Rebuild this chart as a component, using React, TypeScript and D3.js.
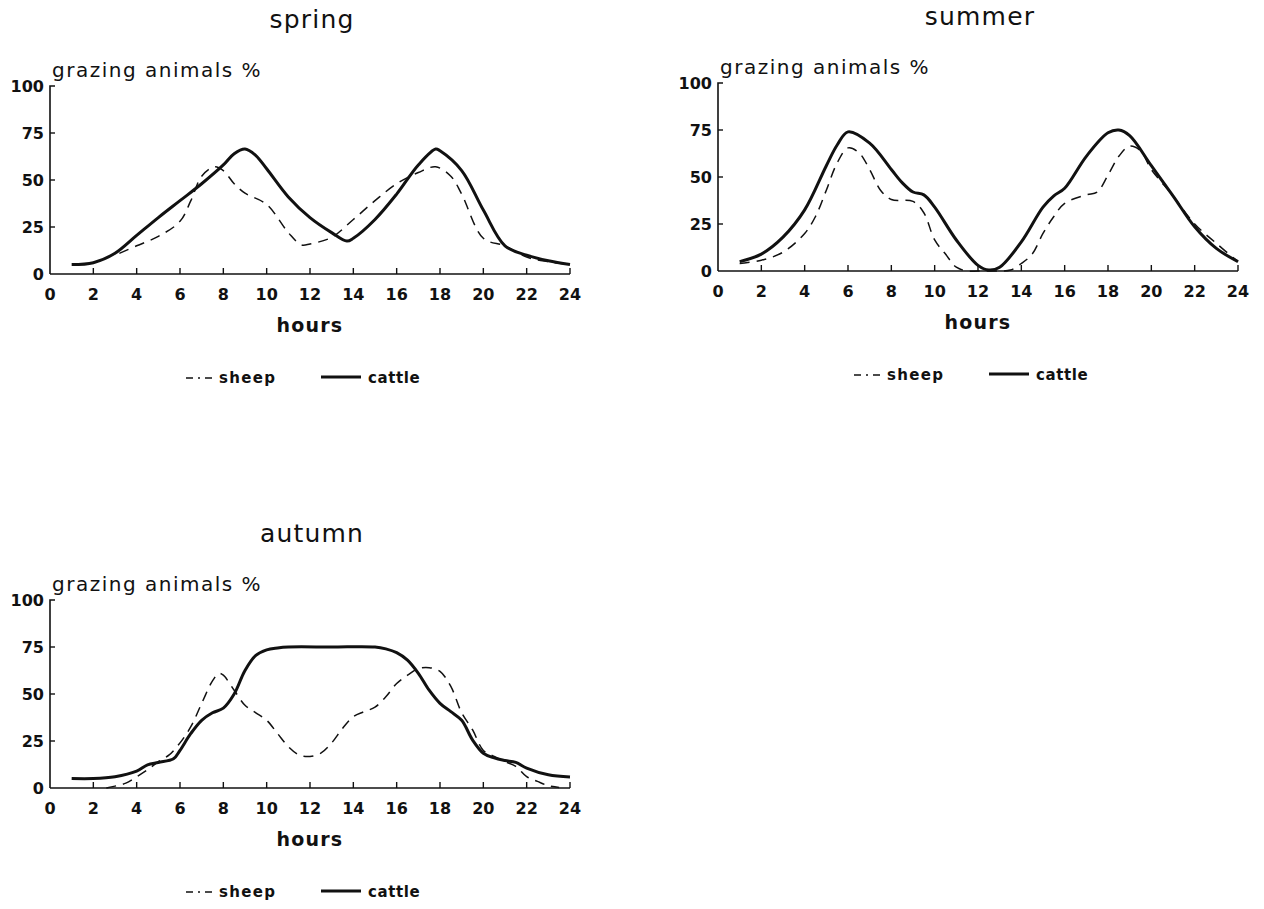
import React from "react";
import * as d3 from "d3";

const hourTicks = [0, 2, 4, 6, 8, 10, 12, 14, 16, 18, 20, 22, 24];
const pctTicks = [0, 25, 50, 75, 100];

const springCattle: [number, number][] = [
  [1, 5], [2, 6], [3, 11], [4, 20.5], [5, 30], [6, 39], [7, 48], [8, 58], [8.5, 64], [9, 66.5],
  [9.5, 63], [10, 56], [11, 41], [12, 30], [13, 22], [13.7, 17.5], [14, 19], [15, 29], [16, 42.5],
  [17, 58], [17.8, 66.5], [18, 65.5], [19, 55], [20, 34], [21, 15], [22, 10], [23, 7], [24, 5],
];
const springSheep: [number, number][] = [
  [3.2, 11], [4, 15], [5, 20], [6, 28], [6.5, 39], [7, 52], [7.6, 57], [8, 55], [8.5, 48], [9, 43],
  [10, 37], [11, 22], [11.6, 15.5], [12, 16], [13, 19.5], [14, 29], [15, 39], [16, 48], [17, 54],
  [17.8, 57], [18.5, 52], [19, 42.5], [20, 19], [21, 15], [22, 9], [23, 6.5], [24, 5],
];
const summerCattle: [number, number][] = [
  [1, 5], [2, 9], [3, 18], [4, 32.5], [5, 56], [5.5, 67], [6, 74], [7, 68], [8, 54], [8.5, 47],
  [9, 42], [9.5, 40.5], [10, 34], [11, 16.5], [12, 3], [12.5, 0.5], [13, 2], [14, 15.5], [15, 34],
  [15.5, 40], [16, 44], [17, 61], [18, 73.5], [18.5, 75], [19, 72], [20, 56], [21, 40], [22, 23.5],
  [23, 12], [24, 5],
];
const summerSheep: [number, number][] = [
  [1, 4], [2, 5.7], [3, 10], [4, 20], [4.5, 29], [5, 43], [5.5, 57.5], [6, 65.5], [6.5, 63], [7, 54],
  [7.5, 43], [8, 38], [9, 37], [9.5, 31], [10, 16.5], [10.5, 9], [11, 2], [11.5, 0], [12, 0], [13, 0],
  [13.5, 0.5], [14, 4], [14.5, 9], [15, 20], [15.5, 29], [16, 36], [17, 40.5], [17.5, 42], [18, 51],
  [18.5, 61], [19, 66.5], [19.5, 64], [20, 54], [21, 40], [22, 25], [23, 14.7], [24, 5],
];
const autumnCattle: [number, number][] = [
  [1, 5], [2, 5], [3, 6], [4, 9], [4.5, 12.3], [5, 13.6], [5.7, 15.5], [6, 20], [6.5, 29], [7, 36],
  [7.5, 40], [8, 42.5], [8.5, 50], [9, 62.5], [9.5, 70.5], [10, 73.5], [10.5, 74.5], [11, 75],
  [13, 75], [15, 75], [15.5, 74], [16, 72], [16.5, 68], [17, 61], [17.5, 52], [18, 45], [18.5, 40.6],
  [19, 36], [19.5, 25.6], [20, 18.5], [20.5, 16], [21, 14.6], [21.5, 13.6], [22, 10.6], [23, 7],
  [24, 5.8],
];
const autumnSheep: [number, number][] = [
  [2.6, 0], [3, 1], [3.5, 2.6], [4, 6], [4.5, 9.7], [5, 14], [5.5, 17.6], [6, 24], [6.5, 32.6],
  [7, 45], [7.5, 57], [7.8, 61], [8, 60], [8.5, 52], [9, 44], [9.5, 40], [10, 36], [10.5, 29],
  [11, 22], [11.5, 17.6], [12, 16.8], [12.5, 18.5], [13, 24], [13.5, 31.7], [14, 38], [14.5, 40.6],
  [15, 43], [15.5, 48.5], [16, 55.6], [16.5, 60], [17, 63.5], [17.5, 64], [18, 62], [18.5, 54],
  [19, 40], [19.5, 31], [20, 20], [20.5, 16.8], [21, 14], [21.5, 11.5], [22, 6], [22.5, 3.5],
  [23, 1.2], [23.5, 0.3],
];

const panels = [
  { title: "spring", ox: 50, oy: 274, cattle: springCattle, sheep: springSheep },
  { title: "summer", ox: 718, oy: 271, cattle: summerCattle, sheep: summerSheep },
  { title: "autumn", ox: 50, oy: 788, cattle: autumnCattle, sheep: autumnSheep },
];

const FONT = "'DejaVu Sans', 'Liberation Sans', sans-serif";
const W = 520;
const H = 188;

function Panel({ p }: { p: (typeof panels)[number] }) {
  const x = d3.scaleLinear().domain([0, 24]).range([0, W]);
  const y = d3.scaleLinear().domain([0, 100]).range([0, -H]);
  const line = d3
    .line<[number, number]>()
    .x((d) => x(d[0]))
    .y((d) => y(d[1]))
    .curve(d3.curveCatmullRom.alpha(0.5));
  return (
    <g transform={`translate(${p.ox},${p.oy})`} fontFamily={FONT} fill="#111">
      <text x={262} y={-246} fontSize={25} letterSpacing={1.2} textAnchor="middle">
        {p.title}
      </text>
      <text x={2} y={-197} fontSize={20} letterSpacing={1.5}>
        grazing animals %
      </text>
      {/* axes */}
      <path d={`M${x(0)},${y(0)}H${x(24)}`} stroke="#111" strokeWidth={1.6} fill="none" />
      <path d={`M${x(0)},${y(0)}V${y(100)}h5`} stroke="#111" strokeWidth={1.6} fill="none" />
      {hourTicks.slice(1).map((t) => (
        <line key={t} x1={x(t)} x2={x(t)} y1={0} y2={-6} stroke="#111" strokeWidth={1.4} />
      ))}
      {hourTicks.map((t) => (
        <text key={"l" + t} x={x(t)} y={26} fontSize={16} fontWeight="bold" textAnchor="middle">
          {t}
        </text>
      ))}
      {pctTicks.map((t) => (
        <g key={"p" + t}>
          {t > 0 && t < 100 && (
            <line x1={0} x2={5} y1={y(t)} y2={y(t)} stroke="#111" strokeWidth={1.4} />
          )}
          <text x={-6} y={y(t) + 6} fontSize={16} fontWeight="bold" textAnchor="end">
            {t}
          </text>
        </g>
      ))}
      <text x={260} y={58} fontSize={19} fontWeight="bold" letterSpacing={1.2} textAnchor="middle">
        hours
      </text>
      {/* series */}
      <path d={line(p.sheep) || ""} fill="none" stroke="#111" strokeWidth={1.5} strokeDasharray="10,7" />
      <path d={line(p.cattle) || ""} fill="none" stroke="#111" strokeWidth={3} strokeLinejoin="round" />
      {/* legend */}
      <g transform="translate(0,104)">
        <line x1={136} x2={166} y1={0} y2={0} stroke="#111" strokeWidth={1.5} strokeDasharray="7,5,2,5" />
        <text x={169} y={5} fontSize={15} fontWeight="bold" letterSpacing={1.3}>
          sheep
        </text>
        <line x1={271} x2={311} y1={-1} y2={-1} stroke="#111" strokeWidth={3} />
        <text x={318} y={5} fontSize={15} fontWeight="bold" letterSpacing={0.6}>
          cattle
        </text>
      </g>
    </g>
  );
}

export default function App() {
  return (
    <svg
      width={1264}
      height={909}
      style={{ position: "absolute", left: 0, top: 0, background: "#fff" }}
    >
      <rect width={1264} height={909} fill="#fff" />
      {panels.map((p) => (
        <Panel key={p.title} p={p} />
      ))}
    </svg>
  );
}
